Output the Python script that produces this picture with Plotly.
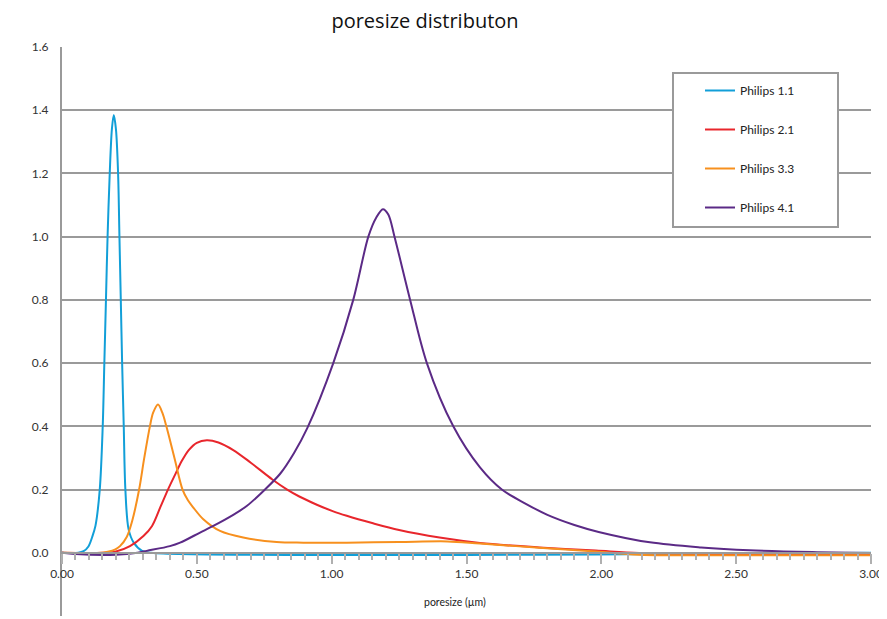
import plotly.graph_objects as go

# ---- data ----
series_names = ["Philips 1.1", "Philips 2.1", "Philips 3.3", "Philips 4.1"]
series_colors = ["#129fd8", "#e8262c", "#f7901e", "#5b2a86"]

x_p11 = [0.0, 0.06, 0.08, 0.098, 0.112, 0.124, 0.140, 0.151, 0.157, 0.163, 0.169, 0.177, 0.185,
         0.192, 0.200, 0.208, 0.213, 0.218, 0.223, 0.229, 0.235, 0.247, 0.266, 0.297, 0.33, 3.0]
y_p11 = [0.0, 0.0, 0.005, 0.02, 0.05, 0.085, 0.2, 0.4, 0.6, 0.8, 1.0, 1.2, 1.34,
         1.385, 1.34, 1.2, 1.0, 0.8, 0.6, 0.4, 0.2, 0.074, 0.032, 0.006, 0.0, 0.0]

x_p21 = [0.0, 0.15, 0.2, 0.252, 0.302, 0.334, 0.365, 0.393, 0.42, 0.444, 0.47, 0.50, 0.537, 0.58,
         0.635, 0.70, 0.78, 0.835, 0.88, 0.945, 1.006, 1.056, 1.15, 1.25, 1.40, 1.55, 1.77,
         1.98, 2.14, 2.5, 3.0]
y_p21 = [0.0, 0.0, 0.004, 0.021, 0.053, 0.085, 0.145, 0.2, 0.248, 0.29, 0.325, 0.348, 0.356, 0.349,
         0.325, 0.285, 0.232, 0.2, 0.178, 0.152, 0.131, 0.117, 0.094, 0.072, 0.048, 0.031, 0.017,
         0.007, -0.001, -0.004, -0.005]

x_p33 = [0.0, 0.15, 0.17, 0.198, 0.215, 0.24, 0.26, 0.286, 0.305, 0.326, 0.338, 0.356, 0.372,
         0.387, 0.417, 0.447, 0.467, 0.487, 0.524, 0.586, 0.672, 0.796, 0.895, 1.056, 1.25, 1.43,
         1.55, 1.77, 1.98, 2.14, 2.5, 3.0]
y_p33 = [0.0, 0.0, 0.003, 0.011, 0.021, 0.05, 0.1, 0.2, 0.3, 0.4, 0.443, 0.469, 0.443,
         0.4, 0.3, 0.2, 0.166, 0.143, 0.106, 0.069, 0.048, 0.034, 0.032, 0.032, 0.034, 0.036,
         0.029, 0.016, 0.004, -0.006, -0.008, -0.008]

x_p41 = [0.0, 0.05, 0.2, 0.28, 0.314, 0.40, 0.438, 0.512, 0.561, 0.635, 0.685, 0.75, 0.809,
         0.86, 0.91, 1.006, 1.08, 1.136, 1.165, 1.19, 1.21, 1.233, 1.291, 1.353, 1.451, 1.55,
         1.631, 1.72, 1.80, 1.90, 1.99, 2.18, 2.37, 2.55, 2.8, 3.0]
y_p41 = [0.0, -0.004, -0.006, 0.0, 0.006, 0.021, 0.032, 0.064, 0.085, 0.12, 0.148, 0.198, 0.25,
         0.315, 0.395, 0.6, 0.8, 1.0, 1.06, 1.087, 1.07, 1.0, 0.8, 0.6, 0.4, 0.27,
         0.2, 0.155, 0.12, 0.088, 0.066, 0.033, 0.017, 0.008, 0.002, -0.001]

y_tick_vals = [-0.2, 0.0, 0.2, 0.4, 0.6, 0.8, 1.0, 1.2, 1.4, 1.6]
y_tick_text = ["-0.2", "0.0", "0.2", "0.4", "0.6", "0.8", "1.0", "1.2", "1.4", "1.6"]
x_tick_vals = [0.0, 0.5, 1.0, 1.5, 2.0, 2.5, 3.0]
x_tick_text = ["0.00", "0.50", "1.00", "1.50", "2.00", "2.50", "3.00"]

FONT = "Lato, 'Open Sans', sans-serif"
TITLE_FONT = "'Open Sans', Lato, sans-serif"
GRID = "#9a9a9a"

# page body has an 8px margin: figure is drawn from (8, 8)
OFF = 8
W, H = 887 - OFF, 619 - OFF
L, T, R, B = 62 - OFF, 47 - OFF, 16, 3
PW, PH = W - L - R, H - T - B


def px_x(px):
    return (px - OFF - L) / PW


def px_y(py):
    return (H - B - (py - OFF)) / PH


xs = [x_p11, x_p21, x_p33, x_p41]
ys = [y_p11, y_p21, y_p33, y_p41]

fig = go.Figure()
for name, color, x, y in zip(series_names, series_colors, xs, ys):
    fig.add_trace(go.Scatter(
        x=x, y=y, name=name, mode="lines", legendgroup=name,
        line=dict(color=color, width=2, shape="spline", smoothing=0.9),
    ))

fig.update_layout(
    width=W, height=H,
    margin=dict(l=L, r=R, t=T, b=B, autoexpand=False),
    paper_bgcolor="white", plot_bgcolor="white",
    font=dict(family=FONT, color="#333333", size=12),
    title=dict(text="poresize distributon", x=(425 - OFF) / W, xanchor="center",
               y=1 - (21 - OFF) / H, yanchor="middle",
               font=dict(family=TITLE_FONT, size=20, color="#111111", weight=500)),
    showlegend=True,
    legend=dict(x=px_x(700), xanchor="left", y=px_y(76), yanchor="top",
                bgcolor="rgba(0,0,0,0)", borderwidth=0, tracegroupgap=20,
                font=dict(family=FONT, size=12, color="#222222")),
    xaxis=dict(range=[0, 3.0], anchor="free", position=0.2 / 1.8,
               showgrid=False, zeroline=False,
               showline=True, linecolor=GRID, linewidth=2,
               tickvals=x_tick_vals, ticktext=x_tick_text,
               ticks="outside", ticklen=10, tickcolor="#b0b0b0", tickwidth=1.5,
               minor=dict(dtick=0.05, tick0=0, ticks="outside", ticklen=6,
                          tickcolor="#b0b0b0", tickwidth=1.5, showgrid=False),
               tickfont=dict(size=12, color="#333333")),
    yaxis=dict(range=[-0.2, 1.6], showgrid=True, gridcolor=GRID, gridwidth=2,
               zeroline=True, zerolinecolor=GRID, zerolinewidth=2,
               showline=True, linecolor=GRID, linewidth=2,
               tickvals=y_tick_vals, ticktext=y_tick_text,
               ticks="", ticklabelstandoff=9,
               tickfont=dict(size=12, color="#333333")),
)

# legend frame
fig.add_shape(type="rect", xref="paper", yref="paper",
              x0=px_x(673), x1=px_x(838), y0=px_y(227), y1=px_y(73),
              line=dict(color=GRID, width=2), fillcolor="white", layer="above")

# x axis title
fig.add_annotation(text="poresize (µm)", xref="paper", yref="paper",
                   x=px_x(455), y=px_y(602), showarrow=False,
                   xanchor="center", yanchor="middle",
                   font=dict(family=FONT, size=10.5, color="#222222"))

fig.write_html("out.html")
